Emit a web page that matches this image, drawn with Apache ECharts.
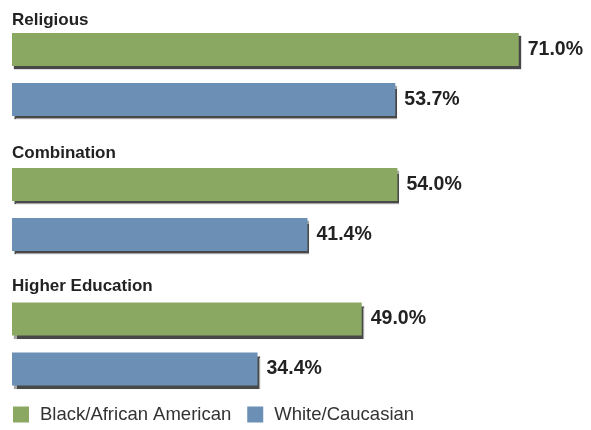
<!DOCTYPE html>
<html>
<head>
<meta charset="utf-8">
<script src="https://cdn.jsdelivr.net/npm/echarts@6/dist/echarts.min.js"></script>
<style>
  html, body { margin: 0; padding: 0; background: #fff; }
  #chart { width: 591px; height: 430px; }
</style>
</head>
<body>
<div id="chart"></div>
<script>
// Datos del gráfico
const grupos = ['Religious', 'Combination', 'Higher Education'];
const seriesNames = ['Black/African American', 'White/Caucasian'];
const valoresBlack = [71.0, 54.0, 49.0];
const valoresWhite = [53.7, 41.4, 34.4];
const colores = ['#8aa862', '#6b8fb5'];

const gridTops = [24.5, 159.5, 294];
const titleTops = [12, 145, 278];

const fuente = '"Liberation Sans", Arial, Helvetica, sans-serif';

const grids = gridTops.map(t => ({ left: 12, right: 8, top: t, height: 100 }));
const xAxes = grupos.map((g, i) => ({
    gridIndex: i, type: 'value', min: 0, max: 80, show: false
}));
const yAxes = grupos.map((g, i) => ({
    gridIndex: i, type: 'category', inverse: true, data: ['a', 'b'], show: false
}));

const series = [];
grupos.forEach((g, i) => {
    [valoresBlack[i], valoresWhite[i]].forEach((v, k) => {
        const data = k === 0 ? [v, null] : [null, v];
        series.push({
            type: 'bar',
            name: seriesNames[k],
            xAxisIndex: i,
            yAxisIndex: i,
            data: data,
            barWidth: 33,
            barGap: '-100%',
            itemStyle: {
                color: colores[k],
                shadowColor: 'rgba(40,40,40,0.85)',
                shadowOffsetX: 2,
                shadowOffsetY: 3,
                shadowBlur: 1
            },
            label: {
                show: true,
                position: 'right',
                distance: 9,
                fontFamily: fuente,
                fontWeight: 'bold',
                fontSize: 19.5,
                color: '#222',
                formatter: p => p.value.toFixed(1) + '%'
            },
            silent: true
        });
    });
});

const option = {
    animation: false,
    title: grupos.map((g, i) => ({
        text: g,
        left: 12,
        top: titleTops[i],
        padding: 0,
        textStyle: { fontFamily: fuente, fontWeight: 'bold', fontSize: 17, color: '#222' }
    })),
    legend: {
        data: seriesNames,
        left: 13,
        top: 405,
        itemWidth: 16,
        itemHeight: 16,
        itemGap: 16,
        padding: 0,
        icon: 'rect',
        textStyle: { fontFamily: fuente, fontSize: 18.5, color: '#333', padding: [0, 0, 0, 6] }
    },
    grid: grids,
    xAxis: xAxes,
    yAxis: yAxes,
    series: series
};

const chart = echarts.init(document.getElementById('chart'));
chart.setOption(option);
</script>
</body>
</html>
